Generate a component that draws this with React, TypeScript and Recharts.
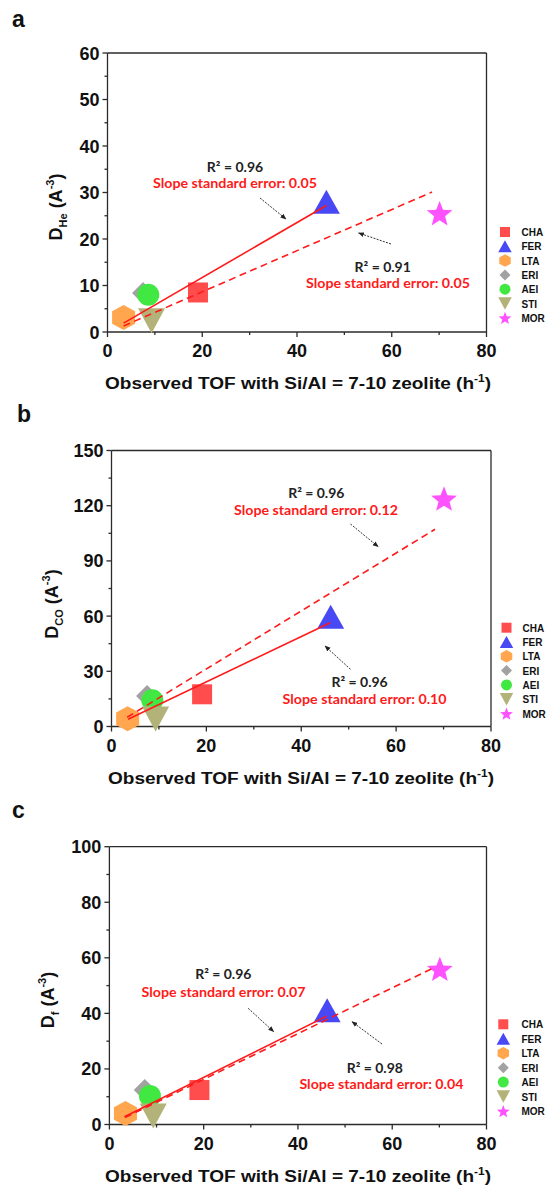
import { ScatterChart, Scatter, XAxis, YAxis, ReferenceLine } from 'recharts';

// Data
const zeolites = ['CHA', 'FER', 'LTA', 'ERI', 'AEI', 'STI', 'MOR'];
const observedTof = [19.1, 46.2, 3.4, 7.5, 8.6, 9.3, 70.1];
const dHe = [8.5, 28.0, 3.1, 8.4, 8.0, 2.4, 25.6];
const dCO = [17.5, 59.7, 4.2, 16.6, 14.2, 4.1, 124];
const dF = [12.4, 41.1, 4.0, 12.4, 10.3, 3.1, 56.1];

// fitted lines (end points)
const fitHeSolid = [{ x: 3.4, y: 1.9 }, { x: 46.2, y: 27.2 }];
const fitHeDashed = [{ x: 3.4, y: 1.3 }, { x: 68.5, y: 30.1 }];
const fitCOSolid = [{ x: 3.5, y: 3.9 }, { x: 46.1, y: 56.4 }];
const fitCODashed = [{ x: 3.3, y: 5.0 }, { x: 68.2, y: 107.2 }];
const fitFSolid = [{ x: 3.2, y: 2.8 }, { x: 46.1, y: 39.0 }];
const fitFDashed = [{ x: 3.3, y: 2.5 }, { x: 68.4, y: 56.1 }];

const xTicks = [0, 10, 20, 30, 40, 50, 60, 70, 80];
const xMajor = [0, 20, 40, 60, 80];
const yTicksHe = [0, 5, 10, 15, 20, 25, 30, 35, 40, 45, 50, 55, 60];
const yMajorHe = [0, 10, 20, 30, 40, 50, 60];
const yTicksCO = [0, 15, 30, 45, 60, 75, 90, 105, 120, 135, 150];
const yMajorCO = [0, 30, 60, 90, 120, 150];
const yTicksF = [0, 10, 20, 30, 40, 50, 60, 70, 80, 90, 100];
const yMajorF = [0, 20, 40, 60, 80, 100];

const notesHe = [
  { r2: 'R² = 0.96', err: 'Slope standard error: 0.05' },
  { r2: 'R² = 0.91', err: 'Slope standard error: 0.05' },
];
const notesCO = [
  { r2: 'R² = 0.96', err: 'Slope standard error: 0.12' },
  { r2: 'R² = 0.96', err: 'Slope standard error: 0.10' },
];
const notesF = [
  { r2: 'R² = 0.96', err: 'Slope standard error: 0.07' },
  { r2: 'R² = 0.98', err: 'Slope standard error: 0.04' },
];

const COLORS: Record<string, string> = {
  CHA: '#ff4d4d',
  FER: '#4848f4',
  LTA: '#ffa64f',
  ERI: '#a2a2a2',
  AEI: '#42e842',
  STI: '#b3b379',
  MOR: '#ff52ff',
};

const AXIS = '#2b2b2b';
const RED = '#ff1a1a';
const SANS = '"Liberation Sans", Arial, sans-serif';
const NOTE_FONT = 'Lato, "Open Sans", sans-serif';

const Marker = ({ name, cx, cy, s = 1 }: { name: string; cx: number; cy: number; s?: number }) => {
  const fill = COLORS[name];
  switch (name) {
    case 'CHA': {
      const a = 20 * s;
      return <rect x={cx - a / 2} y={cy - a / 2} width={a} height={a} fill={fill} />;
    }
    case 'FER': {
      const w = 27 * s, h = 24 * s;
      return <polygon points={`${cx},${cy - h / 2} ${cx + w / 2},${cy + h / 2} ${cx - w / 2},${cy + h / 2}`} fill={fill} />;
    }
    case 'STI': {
      const w = 27 * s, h = 25 * s;
      return <polygon points={`${cx - w / 2},${cy - h / 2} ${cx + w / 2},${cy - h / 2} ${cx},${cy + h / 2}`} fill={fill} />;
    }
    case 'LTA': {
      const w = 23 * s, h = 25 * s;
      return (
        <polygon
          points={`${cx},${cy - h / 2} ${cx + w / 2},${cy - h / 4} ${cx + w / 2},${cy + h / 4} ${cx},${cy + h / 2} ${cx - w / 2},${cy + h / 4} ${cx - w / 2},${cy - h / 4}`}
          fill={fill}
        />
      );
    }
    case 'ERI': {
      const r = 11 * s;
      return <polygon points={`${cx},${cy - r} ${cx + r},${cy} ${cx},${cy + r} ${cx - r},${cy}`} fill={fill} />;
    }
    case 'AEI':
      return <circle cx={cx} cy={cy} r={11 * s} fill={fill} />;
    case 'MOR': {
      const R = 13.5 * s, r = 5.8 * s;
      const pts: string[] = [];
      for (let i = 0; i < 10; i++) {
        const ang = -Math.PI / 2 + (i * Math.PI) / 5;
        const rad = i % 2 === 0 ? R : r;
        pts.push(`${cx + rad * Math.cos(ang)},${cy + 1.5 * s + rad * Math.sin(ang)}`);
      }
      return <polygon points={pts.join(' ')} fill={fill} />;
    }
    default:
      return null;
  }
};

const YTick = (props: any) => {
  const { x, y, payload, major } = props;
  const isMajor = major.includes(payload.value);
  return (
    <g>
      <line x1={x} x2={x - (isMajor ? 5 : 3)} y1={y} y2={y} stroke={AXIS} strokeWidth={1.3} />
      {isMajor && (
        <text x={x - 8} y={y + 6.5} textAnchor="end" fontFamily={SANS} fontWeight="bold" fontSize={18} fill="#111">
          {payload.value}
        </text>
      )}
    </g>
  );
};

const XTick = (props: any) => {
  const { x, y, payload } = props;
  const isMajor = xMajor.includes(payload.value);
  return (
    <g>
      <line x1={x} x2={x} y1={y} y2={y + (isMajor ? 5 : 3)} stroke={AXIS} strokeWidth={1.3} />
      {isMajor && (
        <text x={x} y={y + 25} textAnchor="middle" fontFamily={SANS} fontWeight="bold" fontSize={18} fill="#111">
          {payload.value}
        </text>
      )}
    </g>
  );
};

interface PanelProps {
  top: number;
  height: number;
  plot: { left: number; right: number; top: number; bottom: number };
  values: number[];
  yMax: number;
  yTicks: number[];
  yMajor: number[];
  solid: { x: number; y: number }[];
  dashed: { x: number; y: number }[];
}

const Panel = ({ top, height, plot, values, yMax, yTicks, yMajor, solid, dashed }: PanelProps) => {
  const points = zeolites.map((name, i) => ({ name, x: observedTof[i], y: values[i] }));
  return (
    <div style={{ position: 'absolute', left: 0, top }}>
      <ScatterChart
        width={548}
        height={height}
        margin={{
          top: plot.top - top,
          left: plot.left - 50,
          right: 548 - plot.right,
          bottom: top + height - plot.bottom - 30,
        }}
      >
        <XAxis
          type="number"
          dataKey="x"
          domain={[0, 80]}
          ticks={xTicks}
          interval={0}
          height={30}
          tickSize={0}
          tickMargin={0}
          tickLine={false}
          axisLine={{ stroke: AXIS, strokeWidth: 1.3 }}
          tick={(p: any) => <XTick {...p} />}
        />
        <YAxis
          type="number"
          dataKey="y"
          domain={[0, yMax]}
          ticks={yTicks}
          interval={0}
          width={50}
          tickSize={0}
          tickMargin={0}
          tickLine={false}
          axisLine={{ stroke: AXIS, strokeWidth: 1.3 }}
          tick={(p: any) => <YTick {...p} major={yMajor} />}
        />
        <ReferenceLine y={yMax} stroke={AXIS} strokeWidth={1.3} />
        <ReferenceLine x={80} stroke={AXIS} strokeWidth={1.3} />
        {points.map((pt) => (
          <Scatter
            key={pt.name}
            name={pt.name}
            data={[pt]}
            isAnimationActive={false}
            shape={(p: any) => <Marker name={pt.name} cx={p.cx} cy={p.cy} />}
          />
        ))}
        <Scatter
          data={solid}
          isAnimationActive={false}
          line={{ stroke: RED, strokeWidth: 1.6 }}
          shape={() => <g />}
        />
        <Scatter
          data={dashed}
          isAnimationActive={false}
          line={{ stroke: RED, strokeWidth: 1.6, strokeDasharray: '7 4.5' }}
          shape={() => <g />}
        />
      </ScatterChart>
    </div>
  );
};

const Note = ({ cx1, y1, cx2, y2, r2, err }: { cx1: number; y1: number; cx2: number; y2: number; r2: string; err: string }) => (
  <g fontFamily={NOTE_FONT} fontWeight="bold">
    <text x={cx1} y={y1} textAnchor="middle" fontSize={14} fill="#222">{r2}</text>
    <text x={cx2} y={y2} textAnchor="middle" fontSize={14} fill={RED} textLength={164} lengthAdjust="spacingAndGlyphs">
      {err}
    </text>
  </g>
);

const Arrow = ({ x1, y1, x2, y2 }: { x1: number; y1: number; x2: number; y2: number }) => (
  <line x1={x1} y1={y1} x2={x2} y2={y2} stroke="#333" strokeWidth={1} strokeDasharray="2 1.3" markerEnd="url(#arrowHead)" />
);

const LegendBlock = ({ mx, tx, y0, step }: { mx: number; tx: number; y0: number; step: number }) => (
  <g>
    {zeolites.map((name, i) => (
      <g key={name}>
        <Marker name={name} cx={mx} cy={y0 + i * step} s={0.5} />
        <text x={tx} y={y0 + i * step + 4} fontFamily={SANS} fontWeight="bold" fontSize={10} fill="#111">
          {name}
        </text>
      </g>
    ))}
  </g>
);

const YTitle = ({ x, cy, sub }: { x: number; cy: number; sub: string }) => (
  <text
    x={x}
    y={cy}
    transform={`rotate(-90 ${x} ${cy})`}
    textAnchor="middle"
    fontFamily={SANS}
    fontWeight="bold"
    fontSize={18}
    fill="#111"
  >
    D
    <tspan fontSize={11} dy={5}>{sub}</tspan>
    <tspan dy={-5}> (A</tspan>
    <tspan fontSize={11} dy={-8}>-3</tspan>
    <tspan dy={8}>)</tspan>
  </text>
);

const XTitle = ({ cx, y }: { cx: number; y: number }) => (
  <text x={cx} y={y} textAnchor="middle" fontFamily={SANS} fontWeight="bold" fontSize={16} fill="#111" textLength={386} lengthAdjust="spacingAndGlyphs">
    Observed TOF with Si/Al = 7-10 zeolite (h
    <tspan fontSize={10} dy={-7}>-1</tspan>
    <tspan dy={7}>)</tspan>
  </text>
);

const App = () => {
  return (
    <div style={{ position: 'absolute', left: 0, top: 0, width: 548, height: 1186, background: '#fff' }}>
      <Panel
        top={0}
        height={395}
        plot={{ left: 107.5, right: 486.5, top: 53, bottom: 332 }}
        values={dHe}
        yMax={60}
        yTicks={yTicksHe}
        yMajor={yMajorHe}
        solid={fitHeSolid}
        dashed={fitHeDashed}
      />
      <Panel
        top={395}
        height={397}
        plot={{ left: 111.5, right: 491, top: 450.5, bottom: 726.5 }}
        values={dCO}
        yMax={150}
        yTicks={yTicksCO}
        yMajor={yMajorCO}
        solid={fitCOSolid}
        dashed={fitCODashed}
      />
      <Panel
        top={792}
        height={394}
        plot={{ left: 109.4, right: 486.5, top: 846.7, bottom: 1124.5 }}
        values={dF}
        yMax={100}
        yTicks={yTicksF}
        yMajor={yMajorF}
        solid={fitFSolid}
        dashed={fitFDashed}
      />
      <svg width={548} height={1186} style={{ position: 'absolute', left: 0, top: 0, pointerEvents: 'none' }}>
        <defs>
          <marker id="arrowHead" viewBox="0 0 10 10" refX="9" refY="5" markerWidth="6" markerHeight="6" orient="auto">
            <path d="M0,1 L10,5 L0,9 z" fill="#222" />
          </marker>
        </defs>
        <g fontFamily={SANS} fontWeight="bold" fontSize={23} fill="#111">
          <text x={12} y={27}>a</text>
          <text x={17} y={422}>b</text>
          <text x={12} y={818}>c</text>
        </g>

        <YTitle x={61.7} cy={207} sub="He" />
        <YTitle x={58} cy={604} sub="CO" />
        <YTitle x={54} cy={1000} sub="f" />

        <XTitle cx={298} y={389} />
        <XTitle cx={301} y={783.5} />
        <XTitle cx={298} y={1181.5} />

        <Note cx1={235} y1={171.5} cx2={235} y2={188} {...notesHe[0]} />
        <Arrow x1={260} y1={198} x2={286} y2={219} />
        <Note cx1={382.7} y1={271.7} cx2={388} y2={288.3} {...notesHe[1]} />
        <Arrow x1={391} y1={244} x2={358.6} y2={233} />

        <Note cx1={316.3} y1={498.3} cx2={316} y2={515} {...notesCO[0]} />
        <Arrow x1={350.5} y1={524} x2={378.2} y2={546.7} />
        <Note cx1={359.6} y1={687.3} cx2={364.6} y2={704} {...notesCO[1]} />
        <Arrow x1={350.5} y1={669.3} x2={325} y2={646} />

        <Note cx1={223.3} y1={979} cx2={223.6} y2={996.7} {...notesF[0]} />
        <Arrow x1={248.2} y1={1008.3} x2={273.7} y2={1031.7} />
        <Note cx1={374.8} y1={1072.7} cx2={381.4} y2={1089} {...notesF[1]} />
        <Arrow x1={382} y1={1044} x2={352} y2={1021.7} />

        <LegendBlock mx={505} tx={521.5} y0={232} step={14.3} />
        <LegendBlock mx={506.5} tx={522.5} y0={627.7} step={14.3} />
        <LegendBlock mx={503.3} tx={521.5} y0={1024.3} step={14.45} />
      </svg>
    </div>
  );
};

export default App;
